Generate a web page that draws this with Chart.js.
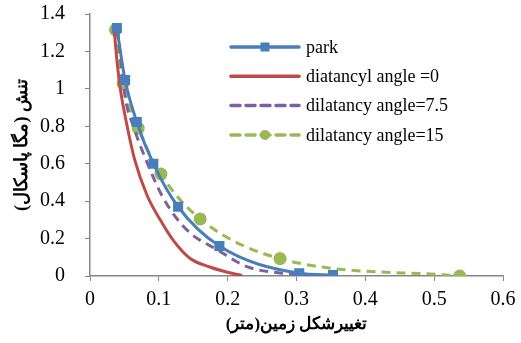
<!DOCTYPE html>
<html>
<head>
    <script src="https://cdn.jsdelivr.net/npm/chart.js"></script>
    <style>
        body { margin: 0; background: #fff; }
        #wrap { width: 521px; height: 343px; }
    </style>
</head>
<body>
<div id="wrap"><canvas id="chart"></canvas></div>
<script>
    // values (x = settlement m, y = stress MPa)
    var parkX = [0.039, 0.051, 0.068, 0.092, 0.128, 0.188, 0.304, 0.353];
    var parkY = [1.325, 1.047, 0.823, 0.60, 0.37, 0.16, 0.015, 0.005];

    var angle0X = [0.035, 0.040, 0.044, 0.054, 0.065, 0.083, 0.102, 0.121, 0.145, 0.174, 0.200, 0.221];
    var angle0Y = [1.32, 1.12, 1.0, 0.80, 0.62, 0.43, 0.30, 0.19, 0.095, 0.048, 0.02, 0.003];

    var angle75X = [0.040, 0.051, 0.063, 0.077, 0.106, 0.141, 0.185, 0.228, 0.276, 0.330];
    var angle75Y = [1.32, 0.957, 0.80, 0.66, 0.42, 0.245, 0.14, 0.05, 0.016, 0.003];

    var angle15X = [0.037, 0.048, 0.070, 0.103, 0.160, 0.276, 0.537];
    var angle15Y = [1.315, 1.03, 0.79, 0.545, 0.305, 0.093, 0.0];

    var seriesNames = ['park', 'diatancyl angle =0', 'dilatancy angle=7.5', 'dilatancy angle=15'];
    var xTitle = 'تغییرشکل زمین(متر)';
    var yTitle = 'تنش (مگا پاسکال)';

    function pts(xs, ys) {
        return xs.map(function (x, i) { return { x: x, y: ys[i] }; });
    }

    // legend drawn inside the plot like the excel one
    var legendPlugin = {
        id: 'insideLegend',
        afterDraw: function (chart) {
            var ctx = chart.ctx;
            ctx.save();
            chart.data.datasets.forEach(function (ds, i) {
                var y = 47 + i * 29.3;
                ctx.strokeStyle = ds.borderColor;
                ctx.lineWidth = 3.5;
                ctx.lineCap = 'round';
                ctx.setLineDash(ds.borderDash || []);
                ctx.beginPath();
                ctx.moveTo(231, y);
                ctx.lineTo(299, y);
                ctx.stroke();
                ctx.setLineDash([]);
                ctx.fillStyle = ds.borderColor;
                if (ds.pointStyle === 'rect' && ds.pointRadius > 0) {
                    ctx.fillRect(265 - 4.5, y - 4.5, 9, 9);
                } else if (ds.pointRadius > 0) {
                    ctx.beginPath();
                    ctx.arc(265, y, 5, 0, Math.PI * 2);
                    ctx.fill();
                }
                ctx.fillStyle = '#000';
                ctx.font = '18px "Liberation Serif"';
                ctx.textBaseline = 'middle';
                ctx.fillText(ds.label, 306, y + 1);
            });
            ctx.restore();
        }
    };

    window.onload = function () {
        var ctx = document.getElementById('chart').getContext('2d');
        new Chart(ctx, {
            type: 'scatter',
            data: {
                datasets: [
                    {
                        label: seriesNames[0],
                        data: pts(parkX, parkY),
                        showLine: true,
                        borderColor: '#4A7EBB',
                        backgroundColor: '#4A7EBB',
                        borderWidth: 3,
                        pointStyle: 'rect',
                        pointRadius: 5,
                        cubicInterpolationMode: 'monotone'
                    },
                    {
                        label: seriesNames[1],
                        data: pts(angle0X, angle0Y),
                        showLine: true,
                        borderColor: '#BE4B48',
                        backgroundColor: '#BE4B48',
                        borderWidth: 3,
                        pointRadius: 0,
                        cubicInterpolationMode: 'monotone'
                    },
                    {
                        label: seriesNames[2],
                        data: pts(angle75X, angle75Y),
                        showLine: true,
                        borderColor: '#7D60A0',
                        backgroundColor: '#7D60A0',
                        borderWidth: 3,
                        borderDash: [9, 6],
                        pointRadius: 0,
                        cubicInterpolationMode: 'monotone'
                    },
                    {
                        label: seriesNames[3],
                        data: pts(angle15X, angle15Y),
                        showLine: true,
                        borderColor: '#98B954',
                        backgroundColor: '#98B954',
                        borderWidth: 3,
                        borderDash: [9, 6],
                        pointStyle: 'circle',
                        pointRadius: 5,
                        cubicInterpolationMode: 'monotone'
                    }
                ]
            },
            options: {
                responsive: true,
                maintainAspectRatio: false,
                animation: false,
                layout: { padding: { top: 14, right: 18, left: 0, bottom: 0 } },
                plugins: {
                    legend: { display: false },
                    tooltip: { enabled: false }
                },
                scales: {
                    x: {
                        type: 'linear',
                        min: 0,
                        max: 0.6,
                        ticks: {
                            stepSize: 0.1,
                            color: '#000',
                            font: { family: 'Liberation Serif', size: 20 },
                            padding: 7,
                            callback: function (v) { return Math.round(v * 10) / 10; }
                        },
                        grid: { drawOnChartArea: false, drawTicks: true, tickLength: 5, color: '#868686' },
                        border: { color: '#868686', width: 1.5 },
                        title: {
                            display: true,
                            text: xTitle,
                            color: '#000',
                            font: { family: 'Liberation Serif', size: 17, weight: 'bold' },
                            padding: { top: 2, bottom: 8 }
                        },
                        afterFit: function (scale) {
                            scale.height = 67;
                            scale.paddingLeft = 0;
                            scale.paddingRight = 0;
                        }
                    },
                    y: {
                        min: 0,
                        max: 1.4,
                        ticks: {
                            stepSize: 0.2,
                            color: '#000',
                            font: { family: 'Liberation Serif', size: 20 },
                            padding: 20,
                            callback: function (v) { return Math.round(v * 10) / 10; }
                        },
                        grid: { drawOnChartArea: false, drawTicks: true, tickLength: 5, color: '#868686' },
                        border: { color: '#868686', width: 1.5 },
                        title: {
                            display: true,
                            text: yTitle,
                            color: '#000',
                            font: { family: 'Liberation Serif', size: 18, weight: 'bold' },
                            padding: { top: 12, bottom: 0 }
                        },
                        afterFit: function (scale) {
                            scale.width = 90;
                            scale.paddingTop = 0;
                            scale.paddingBottom = 0;
                        }
                    }
                }
            },
            plugins: [legendPlugin]
        });
    };
</script>
</body>
</html>
